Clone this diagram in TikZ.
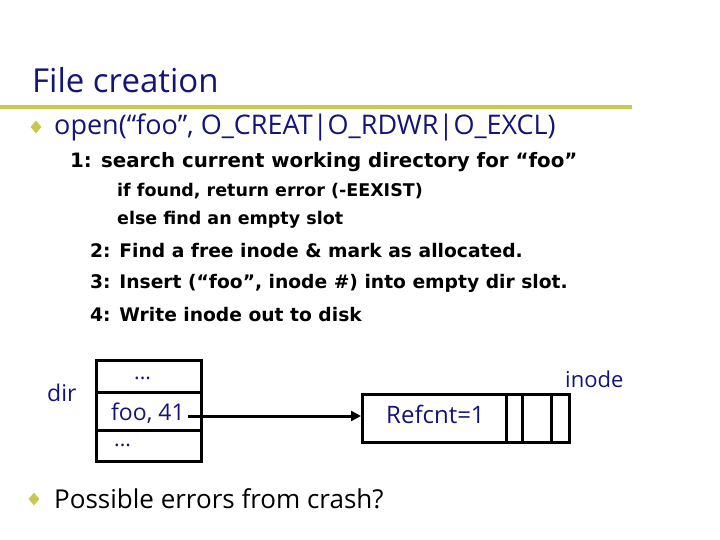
\documentclass[tikz,border=0pt]{standalone}
\usepackage{fontspec}
\setmainfont{Open Sans}
\newfontfamily\codefont{DejaVu Sans}
\usetikzlibrary{arrows.meta,shapes.geometric}
\definecolor{navy}{RGB}{20,20,120}
\definecolor{olive}{RGB}{200,200,80}
\begin{document}
\begin{tikzpicture}[x=1pt,y=-1pt,
  blue text/.style={text=navy,inner sep=0pt,anchor=west},
  code/.style={inner sep=0pt,anchor=west,font=\codefont\bfseries\fontsize{18.7}{22}\selectfont},
  codesmall/.style={inner sep=0pt,anchor=west,font=\codefont\bfseries\fontsize{17.5}{20}\selectfont},
  bul/.style={diamond,fill=olive,inner sep=0pt,minimum width=11,minimum height=13},
  box/.style={draw,line width=3pt}]
\useasboundingbox (0,0) rectangle (720,540);
\node[blue text,font=\fontsize{33}{38}\selectfont] (title) at (32,80) {File creation};
\draw[olive,line width=4pt] (0,107) -- (632,107);
\node[bul] (b1) at (36,127) {};
\node[blue text,font=\fontsize{27}{32}\selectfont] (open) at (54,127) {open(“foo”, O\_CREAT|O\_RDWR|O\_EXCL)};
\node[code,font=\codefont\bfseries\fontsize{19.8}{23}\selectfont] (l1) at (70,162) {1: search current working directory for “foo”};
\node[codesmall] (l1a) at (117,191) {if found, return error (-EEXIST)};
\node[codesmall] (l1b) at (117,220) {else find an empty slot};
\node[code] (l2) at (90,251) {2: Find a free inode \& mark as allocated.};
\node[code] (l3) at (90,283) {3: Insert (“foo”, inode \#) into empty dir slot.};
\node[code] (l4) at (90,315) {4: Write inode out to disk};
% dir
\node[blue text,font=\fontsize{23}{27}\selectfont] (dir) at (47,393) {dir};
\draw[box] (96,360) rectangle (201,461);
\draw[box] (96,392) -- (201,392) (96,430) -- (201,430);
\node[blue text,font=\fontsize{21}{24}\selectfont] (d1) at (134,378) {...};
\node[blue text,font=\fontsize{23}{27}\selectfont] (foo) at (111,413) {foo, 41};
\node[blue text,font=\fontsize{21}{24}\selectfont] (d2) at (114,445) {...};
% inode
\node[draw,line width=3pt,minimum width=207,minimum height=48,anchor=north west,inner sep=0pt] (inode) at (361,393) {};
\draw[box] (506,393) -- (506,441) (522,393) -- (522,441) (551,393) -- (551,441);
\node[blue text,font=\fontsize{24}{28}\selectfont] (ref) at (386,414) {Refcnt=1};
\node[blue text,font=\fontsize{22}{26}\selectfont] (lab) at (565,379) {inode};
\draw[line width=3pt,-{Triangle[length=10pt,width=10pt]}] (foo.east) ++(3,3) coordinate (s) -- (s -| inode.west);
\node[bul] (b2) at (34,499) {};
\node[blue text,text=black,font=\fontsize{26}{30}\selectfont] (poss) at (54,499) {Possible errors from crash?};
\end{tikzpicture}
\end{document}
